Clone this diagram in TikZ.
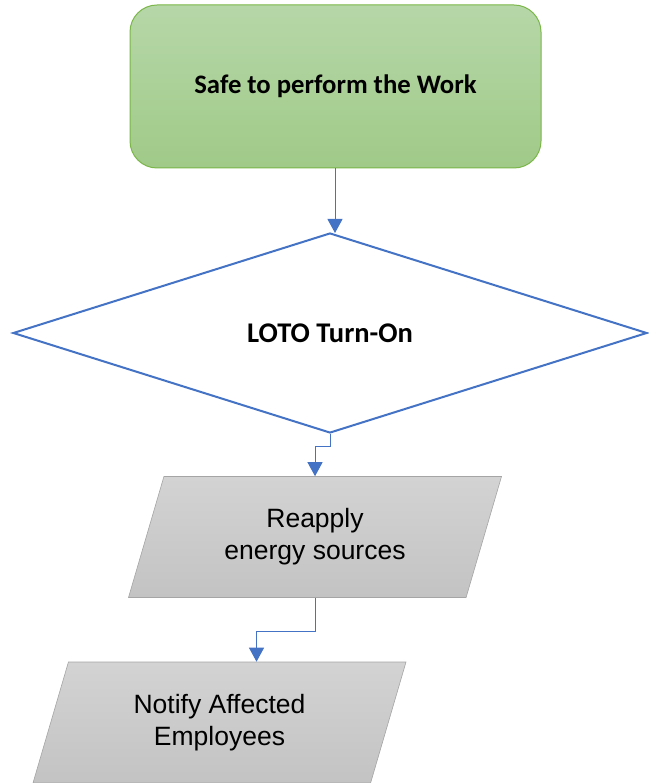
\documentclass[tikz,border=0pt]{standalone}
\usepackage{fontspec}
\setmainfont{Carlito}
\newfontfamily\arialfont{Liberation Sans}
\usepackage{tikz}
\usetikzlibrary{
	shapes.geometric,
	arrows.meta
}
\definecolor{lineblue}{HTML}{4472C4}
\definecolor{greenline}{HTML}{7AB648}
\definecolor{greentop}{HTML}{B6D7A8}
\definecolor{greenbot}{HTML}{A0CA88}
\definecolor{graytop}{HTML}{D3D3D3}
\definecolor{graybot}{HTML}{C3C3C3}
\definecolor{grayline}{HTML}{A5A5A5}

\begin{document}
\begin{tikzpicture}[x=1pt,y=-1pt,
		startbox/.style={draw=greenline,line width=1pt,rounded corners=27pt,
			top color=greentop,bottom color=greenbot,
			minimum width=411pt,minimum height=163pt,
			font=\fontsize{26.7}{30}\selectfont\bfseries},
		decision/.style={diamond,draw=lineblue,line width=2pt,fill=white,
			minimum width=634pt,minimum height=200pt,inner sep=0pt,
			font=\fontsize{28.5}{32}\selectfont\bfseries},
		iobox/.style={trapezium,trapezium left angle=58,trapezium right angle=122,
			trapezium stretches body,draw=grayline,line width=0.6pt,
			top color=graytop,bottom color=graybot,
			minimum width=373pt,minimum height=121pt,inner sep=0pt,align=center,
			font=\arialfont\fontsize{26.5}{32}\selectfont},
		link/.style={draw=lineblue,line width=1pt,-{Triangle[width=15pt,length=14pt]}}
	]
		\useasboundingbox (0,0) rectangle (648,783);
		\draw
			node[startbox] (work)    at (335.5,86.5) {Safe to perform the Work}
			node[decision] (loto)    at (330,333)    {LOTO Turn-On}
			node[iobox]    (reapply) at (315,537)    {Reapply\\energy sources}
			node[iobox]    (notify)  at (219.5,722.5) {Notify Affected\\Employees}
		;
		\draw[link] (work.south -| 335,0) -- (335,233);
		\draw[link] (loto.south) -- ++(0,12) -| (reapply.north);
		\draw[link] (reapply.south) -- ++(0,34) -| ([xshift=37pt]notify.north);
	\end{tikzpicture}
\end{document}
